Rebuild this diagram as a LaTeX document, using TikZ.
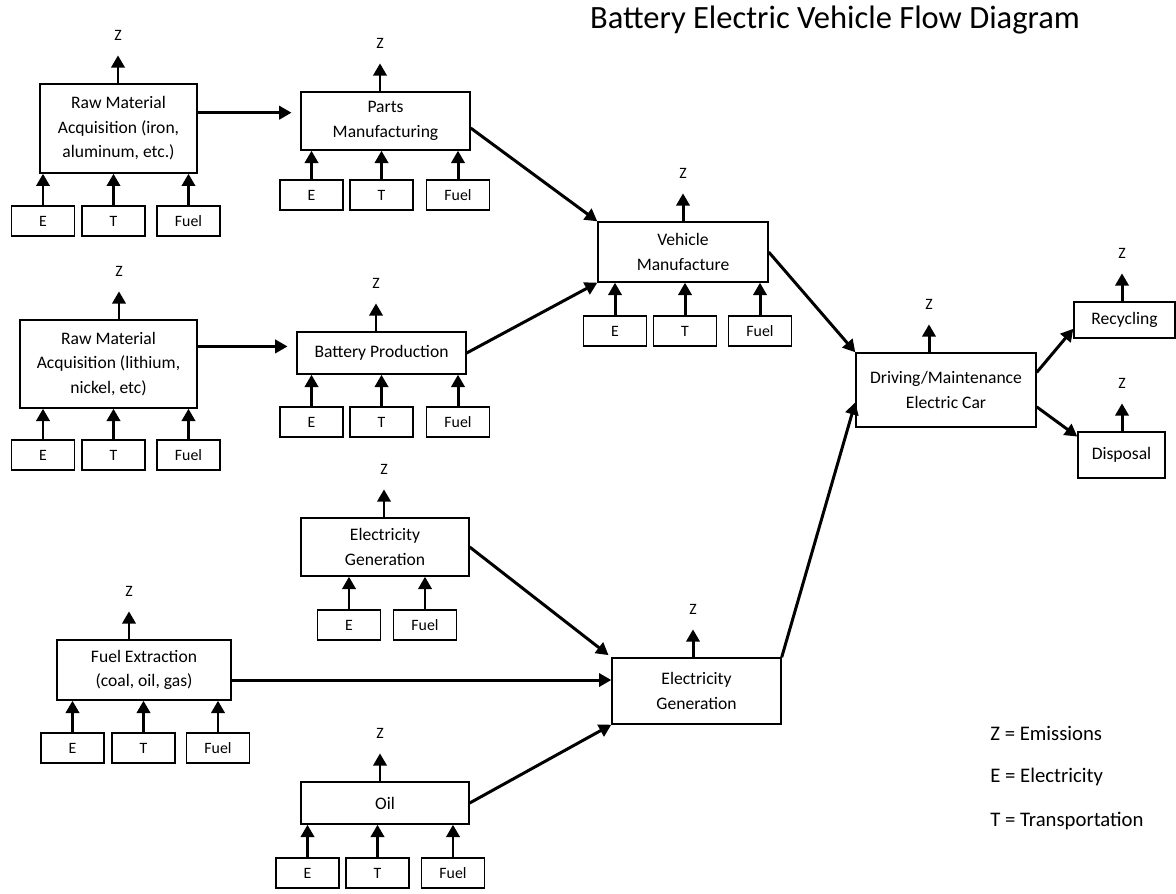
\documentclass[tikz,border=0pt]{standalone}
\usepackage{fontspec}
\setmainfont{Carlito}
\usetikzlibrary{positioning, arrows.meta, calc}

\begin{document}
\begin{tikzpicture}[x=0.02cm,y=-0.02cm,
    proc/.style 2 args={draw, line width=0.8pt, align=center, inner sep=0pt,
      minimum width=#1cm, minimum height=#2cm, font=\fontsize{10}{13.9}\selectfont},
    inbox/.style={draw, line width=0.8pt, inner sep=0pt, minimum width=1.26cm,
      minimum height=0.6cm, font=\fontsize{9}{11}\selectfont},
    zlbl/.style={inner sep=0pt, font=\fontsize{9}{11}\selectfont},
    legend/.style={inner sep=0pt, anchor=west, font=\fontsize{11.8}{14}\selectfont},
    flow/.style={-{Triangle[length=7pt,width=7.5pt]}, line width=1.7pt}]
  \useasboundingbox (0,0) rectangle (1176,893);

  \node[font=\fontsize{18.5}{22}\selectfont] (title) at (835,20) {Battery Electric Vehicle Flow Diagram};

  % process boxes
  \node[proc={3.14}{1.78}] (rm1) at (118.5,128.5) {Raw Material\\Acquisition (iron,\\aluminum, etc.)};
  \node[proc={3.38}{1.16}] (pm) at (385.5,121) {Parts\\Manufacturing};
  \node[proc={3.54}{1.76}] (rm2) at (108.5,364) {Raw Material\\Acquisition (lithium,\\nickel, etc)};
  \node[proc={3.38}{0.84}] (bp) at (381.5,353) {Battery Production};
  \node[proc={3.4}{1.2}] (vm) at (683,252) {Vehicle\\Manufacture};
  \node[proc={3.6}{1.48}] (dm) at (946,390) {Driving/Maintenance\\Electric Car};
  \node[proc={2.02}{0.72}] (rec) at (1124.5,320) {Recycling};
  \node[proc={1.74}{0.92}] (dis) at (1121.5,455) {Disposal};
  \node[proc={3.36}{1.16}] (eg1) at (385,547) {Electricity\\Generation};
  \node[proc={3.48}{1.2}] (fe) at (144,670) {Fuel Extraction\\(coal, oil, gas)};
  \node[proc={3.38}{1.32}] (eg2) at (696.5,691) {Electricity\\Generation};
  \node[proc={3.36}{0.84}] (oil) at (385,803) {Oil};

  % inputs below each box
  \foreach \p/\y/\xs in {rm1/221/{43/E,113.5/T,188.5/Fuel}, pm/195/{311.5/E,381.5/T,458/Fuel},
      rm2/455/{43/E,113.5/T,188.5/Fuel}, bp/422/{311.5/E,381.5/T,458/Fuel},
      vm/331/{615/E,685/T,760/Fuel}, eg1/625/{349/E,425/Fuel},
      fe/748/{72.5/E,143.5/T,218/Fuel}, oil/873/{307.5/E,377.5/T,453/Fuel}}
  {
    \foreach \x/\l in \xs
    {
      \node[inbox] (\p-\l) at (\x,\y) {\l};
      \draw[flow] (\p-\l) -- (\p-\l |- \p.south);
    }
  }

  % emissions above each box
  \foreach \p/\zx in {rm1/118, pm/380, rm2/119, bp/376, vm/683, dm/929, rec/1122,
      dis/1122, eg1/384, fe/129, eg2/693, oil/380}
  {
    \coordinate (\p-zb) at (\zx,0 |- \p.north);
    \coordinate (\p-zt) at ($(\p-zb)+(0,-28)$);
    \draw[flow] (\p-zb) -- (\p-zt);
    \node[zlbl, above=8pt of \p-zt] (\p-z) {Z};
  }

  % main flow
  \coordinate (rm1-out) at ([yshift=9pt]rm1.east);
  \coordinate (rm2-out) at ([yshift=10pt]rm2.east);
  \coordinate (fe-out) at ([yshift=-5.7pt]fe.east);
  \draw[flow, shorten >=5pt] (rm1-out) -- (rm1-out -| pm.west);
  \draw[flow, shorten >=5pt] (rm2-out) -- (rm2-out -| bp.west);
  \draw[flow] ([yshift=-4pt]pm.east) -- (vm.north west);
  \draw[flow] (bp.east) -- (vm.south west);
  \draw[flow] (vm.east) -- (dm.north west);
  \draw[flow] (eg2.north east) -- ([yshift=-7pt]dm.west);
  \draw[flow] ([yshift=10pt]dm.east) -- ([yshift=-5pt]rec.west);
  \draw[flow] ([yshift=-9.6pt]dm.east) -- ([yshift=-3pt]dis.north west);
  \draw[flow, shorten >=2pt] (eg1.east) -- (eg2.north west);
  \draw[flow] (fe-out) -- (fe-out -| eg2.west);
  \draw[flow] (oil.east) -- (eg2.south west);

  % key
  \foreach \k/\t [count=\i] in {Z/Emissions, E/Electricity, T/Transportation}
    \node[legend] (key\i) at (990,{689+44*\i}) {\k\ = \t};
\end{tikzpicture}
\end{document}
